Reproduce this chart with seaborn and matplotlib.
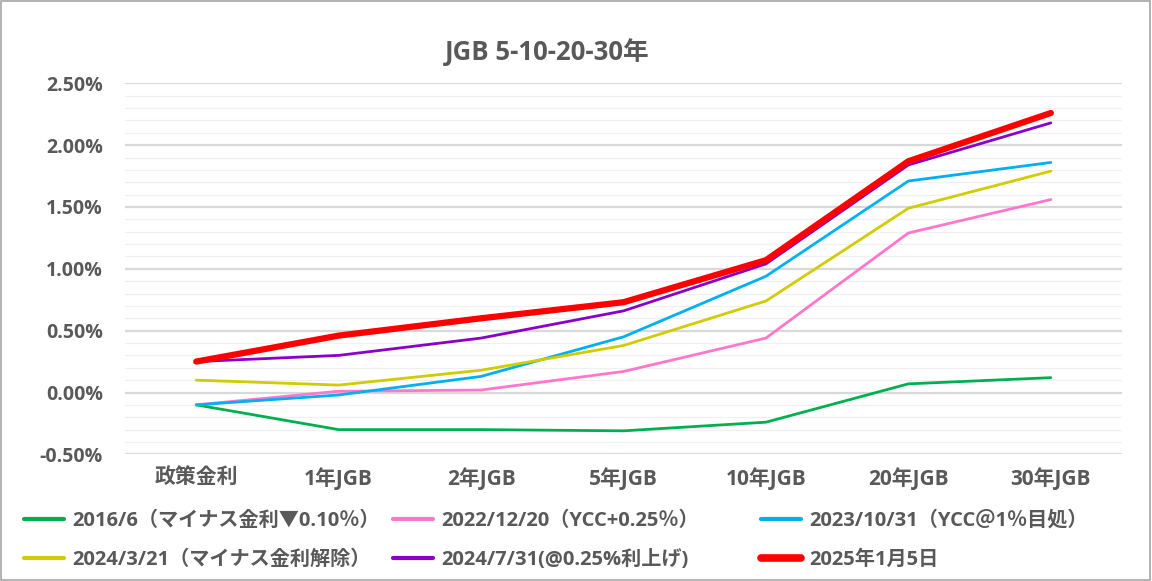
import numpy as np
import pandas as pd
import matplotlib
matplotlib.use('Agg')
import matplotlib.pyplot as plt
from matplotlib.lines import Line2D
from matplotlib.patches import Rectangle
from matplotlib.ticker import MultipleLocator, FuncFormatter
import seaborn as sns

categories = ['政策金利', '1年JGB', '2年JGB', '5年JGB', '10年JGB', '20年JGB', '30年JGB']

labels = ['2016/6（マイナス金利▼0.10％）', '2022/12/20（YCC+0.25％）', '2023/10/31（YCC＠1％目処）',
          '2024/3/21（マイナス金利解除）', '2024/7/31(@0.25%利上げ)', '2025年1月5日']

y_2016 = [-0.10, -0.30, -0.30, -0.31, -0.24, 0.07, 0.12]
y_2022 = [-0.10, 0.01, 0.02, 0.17, 0.44, 1.29, 1.56]
y_2023 = [-0.10, -0.02, 0.13, 0.45, 0.94, 1.71, 1.86]
y_2024a = [0.10, 0.06, 0.18, 0.38, 0.74, 1.49, 1.79]
y_2024b = [0.25, 0.30, 0.44, 0.66, 1.04, 1.84, 2.18]
y_2025 = [0.25, 0.46, 0.60, 0.73, 1.07, 1.87, 2.26]

colors = ['#00B050', '#FF77CC', '#00B0F0', '#D0CC00', '#8B00C8', '#FF0000']
widths = [2.0, 2.0, 2.0, 2.0, 2.0, 4.5]

series = [y_2016, y_2022, y_2023, y_2024a, y_2024b, y_2025]

sns.set_theme(style='white')
plt.rcParams['font.family'] = ['Open Sans', 'Noto Sans CJK JP', 'DejaVu Sans']
grey = '#595959'

fig = plt.figure(figsize=(11.52, 5.81), dpi=100)
ax = fig.add_axes([0.1085, 0.218, 0.8655, 0.6386])

x = np.arange(len(categories))
for lab, ys, c, w in zip(labels, series, colors, widths):
    df = pd.DataFrame({'x': x, 'y': ys})
    sns.lineplot(data=df, x='x', y='y', color=c, linewidth=w, sort=False,
                 ax=ax, solid_capstyle='round', legend=False)

ax.set_xlim(-0.5, len(categories) - 0.5)
ax.set_ylim(-0.5, 2.5)
ax.yaxis.set_major_locator(MultipleLocator(0.5))
ax.yaxis.set_minor_locator(MultipleLocator(0.1))
ax.yaxis.set_major_formatter(FuncFormatter(lambda v, p: f'{v:.2f}%'))
ax.set_xticks(x)
ax.set_xticklabels(categories)
ax.grid(True, which='major', axis='y', color='#D9D9D9', linewidth=1.6, zorder=0)
ax.grid(True, which='minor', axis='y', color='#F0F0F0', linewidth=0.9, zorder=0)
ax.set_axisbelow(True)
ax.tick_params(axis='both', which='both', length=0, colors=grey)
ax.tick_params(axis='x', pad=9, labelsize=15)
ax.tick_params(axis='y', pad=16, labelsize=14)
for t in ax.get_xticklabels() + ax.get_yticklabels():
    t.set_fontweight('bold')
ax.set_xlabel('')
ax.set_ylabel('')
sns.despine(ax=ax, left=True, bottom=True)

fig.text(0.475, 0.9105, 'JGB 5-10-20-30年', ha='center', va='center',
         fontsize=18.5, fontweight='bold', color=grey)

# legend: three columns, two rows
handles = [Line2D([0], [0], color=c, linewidth=3 if w < 3 else 5.5) for c, w in zip(colors, widths)]
col_x = [0.0139, 0.3342, 0.6536]
for i, cx in enumerate(col_x):
    leg = fig.legend([handles[i], handles[i + 3]], [labels[i], labels[i + 3]],
                     loc='upper left', bbox_to_anchor=(cx, 0.1348), frameon=False,
                     handlelength=1.99, handletextpad=0.4, labelspacing=0.96,
                     prop={'size': 14.5, 'weight': 'bold'}, borderaxespad=0)
    for t in leg.get_texts():
        t.set_color(grey)

fig.add_artist(Rectangle((0.001, 0.002), 0.997, 0.996, transform=fig.transFigure,
                         fill=False, edgecolor='#A6A6A6', linewidth=1.2))

fig.savefig('out.png', dpi=100)
